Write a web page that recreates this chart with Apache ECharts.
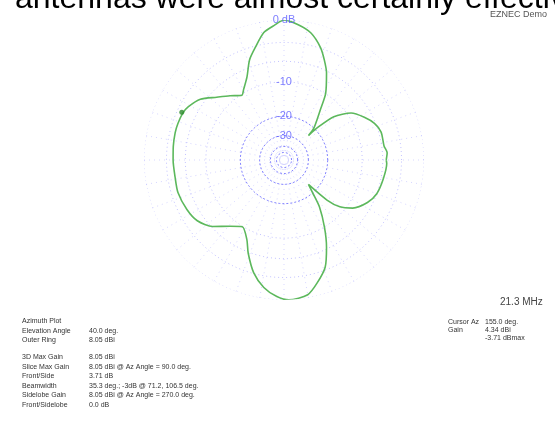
<!DOCTYPE html>
<html><head><meta charset="utf-8">
<script src="https://cdn.jsdelivr.net/npm/echarts@6/dist/echarts.min.js"></script>
<style>html,body{margin:0;padding:0;background:#fff}#c{width:555px;height:432px}</style>
</head><body><div id="c"></div>
<script>
// Azimuth (deg, CCW from right) and relative gain (dB below max)
const azimuths = [0,4,8,16,22,28,35,41,44,45,47,54,58,64,68,72,78,84,90,94,99,104,109,114,120,123,130,137,144,151,155,161,166,173,180,189,197,207,215,223,231,238,245,249,255,261,267,272,280,285,291,296,301,307,311,315,317,320,325,333,340,349,358,360];
const gainDb   = [-5.4,-5.2,-5.6,-5.6,-6.2,-7.4,-9.2,-12.9,-18.8,-24,-19.9,-14.1,-9.9,-6.3,-4.5,-2.9,-1.3,-0.5,0,-0.6,-1.4,-3.1,-4.8,-7.4,-9.4,-10.2,-8.8,-7.2,-5.2,-4.2,-3.9,-3.8,-3.8,-3.9,-4.0,-4.1,-4.0,-4.3,-4.8,-6.2,-8.5,-9.9,-8.0,-5.8,-3.1,-1.4,-0.4,0,-0.4,-1.6,-3.4,-6.3,-9.9,-14.8,-19.9,-24,-14.9,-11.2,-8.8,-6.9,-6.0,-5.6,-5.3,-5.4];
const ringDb = [0,-3,-6,-10,-20,-30,-40,-50];
const ringLabelDb = [0,-10,-20,-30];
const ringLabels = ['0 dB','-10','-20','-30'];
const cursorAz = [155];
const cursorDb = [-3.71];
const infoLeftNames = ['Azimuth Plot','Elevation Angle','Outer Ring','','3D Max Gain','Slice Max Gain','Front/Side','Beamwidth','Sidelobe Gain','Front/Sidelobe'];
const infoLeftVals = ['','40.0 deg.','8.05 dBi','','8.05 dBi','8.05 dBi @ Az Angle = 90.0 deg.','3.71 dB','35.3 deg.; -3dB @ 71.2, 106.5 deg.','8.05 dBi @ Az Angle = 270.0 deg.','0.0 dB'];
const infoRightNames = ['Cursor Az','Gain',''];
const infoRightVals = ['155.0 deg.','4.34 dBi','-3.71 dBmax'];

// ARRL log scale: radius ratio 0.89 per 2 dB
const toR = db => Math.pow(0.89, -db / 2);

const ringSeries = ringDb.map(db => {
  const pts = [];
  for (let a = 0; a <= 360; a += 2) pts.push([toR(db), a]);
  const strong = db <= -20;
  return {
    type: 'line', coordinateSystem: 'polar', data: pts, symbol: 'none', silent: true,
    lineStyle: { width: 1, type: strong ? [2, 2] : [1, 3], color: strong ? 'rgba(90,90,255,0.75)' : 'rgba(120,120,255,0.45)' },
    z: 1
  };
});

const font = 'Liberation Sans, Arial, sans-serif';
const graphics = [
  { type: 'text', left: 15, top: -17, style: { text: 'antennas were almost certainly effective', font: '32px ' + font, fill: '#000' } },
  { type: 'text', left: 490, top: 10, style: { text: 'EZNEC Demo', font: '9px ' + font, fill: '#555' } },
  { type: 'text', left: 500, top: 297, style: { text: '21.3 MHz', font: '10px ' + font, fill: '#444' } }
];
infoLeftNames.forEach((t, i) => {
  const y = 318 + i * 9.5 - (i > 3 ? 2 : 0);
  if (t) graphics.push({ type: 'text', left: 22, top: y, style: { text: t, font: '7px ' + font, fill: '#333' } });
  if (infoLeftVals[i]) graphics.push({ type: 'text', left: 89, top: y, style: { text: infoLeftVals[i], font: '7px ' + font, fill: '#333' } });
});
infoRightNames.forEach((t, i) => {
  const y = 319 + i * 8;
  if (t) graphics.push({ type: 'text', left: 448, top: y, style: { text: t, font: '7px ' + font, fill: '#333' } });
  graphics.push({ type: 'text', left: 485, top: y, style: { text: infoRightVals[i], font: '7px ' + font, fill: '#333' } });
});

const chart = echarts.init(document.getElementById('c'), null, { renderer: 'canvas' });
chart.setOption({
  animation: false,
  backgroundColor: '#fff',
  polar: { center: [284, 160], radius: 140 },
  angleAxis: {
    type: 'value', min: 0, max: 360, interval: 10, startAngle: 0, clockwise: false,
    axisLine: { show: false }, axisTick: { show: false }, axisLabel: { show: false },
    splitLine: { show: true, lineStyle: { color: 'rgba(120,120,255,0.3)', type: [1, 4], width: 1 } }
  },
  radiusAxis: {
    type: 'value', min: 0, max: 1,
    axisLine: { show: false }, axisTick: { show: false }, axisLabel: { show: false }, splitLine: { show: false }
  },
  graphic: graphics,
  series: ringSeries.concat([
    {
      type: 'scatter', coordinateSystem: 'polar', symbolSize: 0, silent: true, z: 5,
      data: ringLabelDb.map((db, i) => ({ value: [toR(db), 90], name: ringLabels[i] })),
      label: { show: true, position: 'inside', formatter: p => p.name, color: '#5a5aff', fontSize: 11, fontFamily: font }
    },
    {
      type: 'line', coordinateSystem: 'polar', symbol: 'none', smooth: 0.25, z: 4,
      data: azimuths.map((a, i) => [toR(gainDb[i]), a]),
      lineStyle: { color: '#5cb85c', width: 1.6 }
    },
    {
      type: 'scatter', coordinateSystem: 'polar', symbolSize: 5, z: 6,
      data: cursorAz.map((a, i) => [toR(cursorDb[i]), a]),
      itemStyle: { color: '#2e8b2e' }
    }
  ])
});
</script></body></html>
